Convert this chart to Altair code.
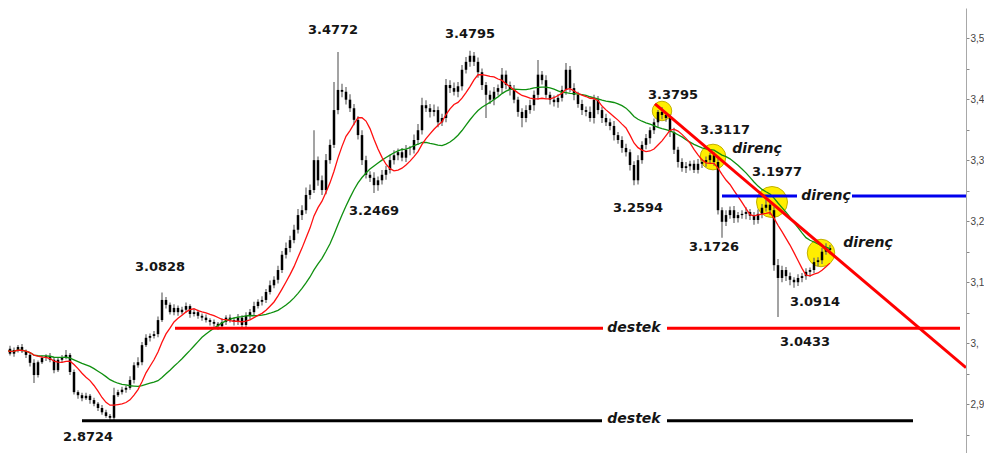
import altair as alt
import pandas as pd

# ---- price bars (close, wick lengths in thousandths) ----
close = [
    2.986, 2.991, 2.983, 2.989, 2.994, 2.987, 2.981, 2.968, 2.948, 2.969,
    2.976, 2.979, 2.973, 2.956, 2.973, 2.977, 2.981, 2.953, 2.920, 2.915,
    2.910, 2.914, 2.907, 2.901, 2.894, 2.887, 2.881, 2.878, 2.915, 2.920,
    2.924, 2.927, 2.940, 2.964, 2.969, 2.997, 3.009, 3.012, 3.015, 3.038,
    3.071, 3.063, 3.051, 3.058, 3.051, 3.055, 3.061, 3.048, 3.051, 3.045,
    3.042, 3.038, 3.035, 3.032, 3.028, 3.035, 3.042, 3.038, 3.035, 3.042,
    3.030, 3.045, 3.051, 3.061, 3.068, 3.071, 3.084, 3.095, 3.104, 3.120,
    3.145, 3.156, 3.169, 3.186, 3.210, 3.218, 3.243, 3.251, 3.300, 3.267,
    3.251, 3.300, 3.325, 3.382, 3.415, 3.412, 3.399, 3.385, 3.366, 3.341,
    3.300, 3.276, 3.271, 3.259, 3.267, 3.276, 3.284, 3.300, 3.308, 3.313,
    3.304, 3.317, 3.317, 3.333, 3.349, 3.390, 3.385, 3.379, 3.382, 3.362,
    3.369, 3.423, 3.418, 3.412, 3.421, 3.448, 3.461, 3.471, 3.461, 3.444,
    3.423, 3.407, 3.399, 3.412, 3.418, 3.440, 3.423, 3.415, 3.399, 3.379,
    3.369, 3.382, 3.390, 3.407, 3.440, 3.431, 3.407, 3.399, 3.395, 3.402,
    3.415, 3.448, 3.418, 3.407, 3.392, 3.382, 3.379, 3.369, 3.399, 3.382,
    3.369, 3.362, 3.356, 3.341, 3.333, 3.320, 3.313, 3.292, 3.267, 3.300,
    3.325, 3.336, 3.349, 3.362, 3.379, 3.374, 3.369, 3.346, 3.317, 3.297,
    3.287, 3.290, 3.294, 3.284, 3.294, 3.297, 3.300, 3.308, 3.297, 3.218,
    3.199, 3.210, 3.218, 3.205, 3.210, 3.212, 3.215, 3.209, 3.202, 3.212,
    3.222, 3.227, 3.218, 3.128, 3.107, 3.120, 3.110, 3.104, 3.100, 3.107,
    3.110, 3.117, 3.120, 3.133, 3.136, 3.150, 3.156, 3.153,
]
wick_up = [
    4, 3, 5, 4, 3, 5, 3, 4, 6, 3,
    4, 3, 5, 4, 3, 4, 8, 3, 4, 3,
    4, 5, 3, 4, 3, 5, 4, 3, 12, 4,
    5, 4, 6, 5, 8, 5, 6, 4, 5, 6,
    12, 5, 4, 6, 4, 5, 6, 3, 5, 4,
    4, 5, 3, 4, 3, 6, 4, 5, 4, 6,
    4, 6, 5, 7, 4, 6, 5, 8, 6, 7,
    6, 9, 7, 8, 10, 8, 12, 9, 49, 6,
    8, 10, 9, 46, 62, 10, 8, 9, 7, 6,
    8, 7, 6, 9, 6, 8, 7, 9, 8, 6,
    7, 8, 6, 9, 10, 12, 8, 7, 9, 6,
    7, 10, 8, 9, 7, 8, 8, 8, 6, 7,
    6, 5, 7, 8, 6, 11, 7, 6, 8, 5,
    6, 8, 9, 7, 24, 6, 8, 5, 7, 6,
    7, 11, 6, 8, 5, 7, 6, 9, 8, 6,
    5, 7, 6, 8, 5, 6, 7, 5, 6, 8,
    6, 7, 5, 6, 3, 8, 5, 6, 7, 5,
    6, 7, 5, 6, 8, 5, 6, 4, 5, 6,
    5, 8, 6, 7, 5, 6, 8, 5, 6, 7,
    6, 8, 5, 6, 10, 7, 5, 6, 4, 6,
    5, 6, 4, 7, 5, 6, 8, 5,
]
wick_dn = [
    4, 5, 3, 5, 4, 3, 5, 6, 13, 4,
    3, 5, 4, 5, 3, 4, 3, 5, 4, 6,
    5, 3, 6, 4, 5, 4, 3, 5, 4, 3,
    4, 5, 3, 6, 4, 5, 3, 6, 4, 5,
    3, 6, 4, 5, 6, 4, 5, 6, 4, 5,
    5, 4, 6, 5, 6, 4, 5, 4, 6, 5,
    5, 4, 6, 5, 4, 6, 5, 4, 5, 6,
    5, 6, 7, 5, 6, 8, 6, 7, 5, 9,
    8, 7, 6, 5, 7, 9, 8, 6, 9, 7,
    8, 6, 7, 13, 9, 7, 8, 6, 7, 8,
    6, 7, 9, 6, 8, 7, 6, 9, 7, 8,
    6, 7, 8, 6, 9, 7, 6, 8, 7, 9,
    8, 38, 7, 9, 6, 8, 7, 9, 6, 8,
    15, 7, 6, 9, 8, 7, 6, 8, 7, 9,
    6, 8, 7, 9, 6, 8, 7, 6, 9, 7,
    8, 6, 7, 9, 6, 8, 7, 9, 8, 7,
    6, 7, 9, 6, 8, 7, 6, 8, 7, 9,
    6, 8, 7, 5, 6, 7, 8, 5, 6, 7,
    26, 7, 6, 8, 7, 6, 9, 7, 8, 6,
    7, 6, 8, 9, 64, 7, 8, 9, 9, 6,
    7, 6, 8, 5, 7, 6, 5, 7,
]

# ---- annotations ----
num_labels = ["3.4772", "3.4795", "3.3795", "3.3117", "3.1977", "3.2594", "3.1726",
              "3.2469", "3.0828", "3.0220", "3.0914", "3.0433", "2.8724"]
num_bar = [82.75, 117, 167.75, 180.75, 193.75, 159, 178, 93, 39.5, 59.75, 203.25, 200.75, 21.5]
num_price = [3.5132, 3.5066, 3.4067, 3.3494, 3.2806, 3.2216, 3.1577, 3.2167, 3.1250,
             2.9906, 3.0676, 3.0021, 2.8465]

word_labels = ["direnç", "direnç", "direnç", "destek", "destek"]
word_bar = [188.75, 206, 216.5, 158, 158]
word_price = [3.3182, 3.2413, 3.1643, 3.0250, 2.8760]

seg_x = [43.25, 166.25, 20, 166.25, 180, 212.5, 163.25]
seg_x2 = [150.25, 239.5, 150, 227.75, 198.75, 241, 241]
seg_y = [3.0245, 3.0245, 2.8732, 2.8732, 3.2413, 3.2413, 3.392]
seg_y2 = [3.0245, 3.0245, 2.8732, 2.8732, 3.2413, 3.2413, 2.960]
seg_color = ["#ff0000", "#ff0000", "#000000", "#000000", "#0000ee", "#0000ee", "#ff0000"]

circle_bar = [165, 177.75, 192.5, 204.75]
circle_price = [3.3805, 3.3051, 3.2314, 3.1479]
circle_size = [380, 660, 962, 755]

y_ticks = [2.85, 2.9, 2.95, 3.0, 3.05, 3.1, 3.15, 3.2, 3.25, 3.3, 3.35, 3.4, 3.45, 3.5, 3.55]

# ---- tables ----
rows = []
prev = close[0]
for i, (c, u, d) in enumerate(zip(close, wick_up, wick_dn)):
    o = prev
    rows.append(dict(bar=i, open=o, close=c,
                     high=max(o, c) + u / 1000.0, low=min(o, c) - d / 1000.0))
    prev = c
bars = pd.DataFrame(rows)
nums = pd.DataFrame(dict(bar=num_bar, price=num_price, label=num_labels))
words = pd.DataFrame(dict(bar=word_bar, price=word_price, label=word_labels))
segs = pd.DataFrame(dict(x=seg_x, x2=seg_x2, y=seg_y, y2=seg_y2, c=seg_color))
circles = pd.DataFrame(dict(bar=circle_bar, price=circle_price, s=circle_size))

XS = alt.Scale(domain=[1.5, 241], nice=False, zero=False)
YS = alt.Scale(domain=[2.8203, 3.5492], nice=False, zero=False)
yaxis = alt.Axis(
    orient="right", values=y_ticks, title=None, grid=False,
    labelExpr="datum.value == 3 ? '3,' : (abs(datum.value * 10 - round(datum.value * 10)) < 0.001 ? replace(format(datum.value, '.1f'), '.', ',') : '')",
    tickSize=3, tickColor="#888888", domainColor="#a8a8a8",
    labelFont="Liberation Sans", labelFontSize=10, labelColor="#444444", labelPadding=1,
)


def X(f):
    return alt.X(f, type="quantitative", scale=XS, axis=None)


def Y(f):
    return alt.Y(f, type="quantitative", scale=YS, axis=yaxis)


circ = alt.Chart(circles).mark_circle(
    fill="#ffee00", stroke="#c2b000", strokeWidth=1, opacity=1, clip=True
).encode(x=X("bar"), y=Y("price"), size=alt.Size("s:Q", scale=None))

wicks = alt.Chart(bars).mark_rule(color="#666666", strokeWidth=1.2, clip=True).encode(
    x=X("bar"), y=Y("low"), y2="high:Q")
bodies = alt.Chart(bars).mark_rule(color="#000000", strokeWidth=2.5, clip=True).encode(
    x=X("bar"), y=Y("open"), y2="close:Q")

ma_fast = alt.Chart(bars).transform_window(
    ma="mean(close)", frame=[-8, 0], sort=[alt.SortField("bar")]
).mark_line(color="#ff1010", strokeWidth=1.3, clip=True).encode(
    x=X("bar"), y=Y("ma"), order="bar:Q")
ma_slow = alt.Chart(bars).transform_window(
    ma="mean(close)", frame=[-22, 0], sort=[alt.SortField("bar")]
).mark_line(color="#109010", strokeWidth=1.3, clip=True).encode(
    x=X("bar"), y=Y("ma"), order="bar:Q")

lines = alt.Chart(segs).mark_rule(strokeWidth=3, clip=True).encode(
    x=X("x"), x2="x2:Q", y=Y("y"), y2="y2:Q", color=alt.Color("c:N", scale=None))

num_text = alt.Chart(nums).mark_text(
    font="DejaVu Sans", fontSize=13, fontWeight="bold", color="#151515",
    align="center", baseline="middle"
).encode(x=X("bar"), y=Y("price"), text="label:N")
word_text = alt.Chart(words).mark_text(
    font="DejaVu Sans", fontSize=14, fontWeight="bold", fontStyle="italic",
    color="#151515", align="center", baseline="middle"
).encode(x=X("bar"), y=Y("price"), text="label:N")

chart = alt.layer(
    circ, wicks, bodies, ma_slow, ma_fast, lines, num_text, word_text
).properties(width=958, height=445, padding=0).configure_view(strokeWidth=0)

chart.save("out.html", embed_options={"renderer": "svg", "actions": False})
